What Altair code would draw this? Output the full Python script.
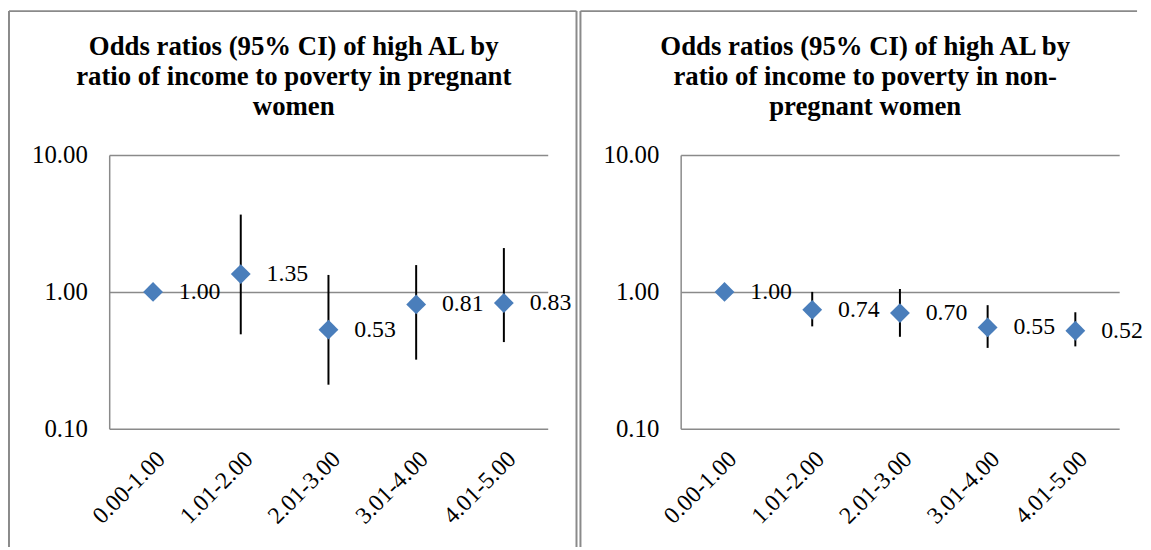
import altair as alt
import pandas as pd

categories = ["0.00-1.00", "1.01-2.00", "2.01-3.00", "3.01-4.00", "4.01-5.00"]

preg_or = [1.00, 1.35, 0.53, 0.81, 0.83]
preg_lo = [None, 0.49, 0.21, 0.32, 0.43]
preg_hi = [None, 3.67, 1.33, 1.57, 2.09]

non_or = [1.00, 0.74, 0.70, 0.55, 0.52]
non_lo = [None, 0.56, 0.47, 0.39, 0.40]
non_hi = [None, 1.00, 1.05, 0.80, 0.71]

y_ticks = [0.1, 1, 10]

title_preg = ["Odds ratios (95% CI) of high AL by",
              "ratio of income to poverty in pregnant",
              "women"]
title_non = ["Odds ratios (95% CI) of high AL by",
             "ratio of income to poverty in non-",
             "pregnant women"]

FONT = "Liberation Serif"
GRAY = "#8a8a8a"
W, H = 442, 276


def panel(or_, lo, hi, title_lines, right_border):
    df = pd.DataFrame({
        "cat": categories,
        "or": or_,
        "lo": lo,
        "hi": hi,
        "lab": [f"{v:.2f}" for v in or_],
    })
    yscale = alt.Scale(type="log", domain=[0.1, 10])
    x = alt.X("cat:N", sort=categories, title=None,
              axis=alt.Axis(labelAngle=-45, domain=False, ticks=False, grid=False,
                            labelFont=FONT, labelFontSize=24, labelColor="black",
                            labelPadding=18))
    y = alt.Y("or:Q", scale=yscale, title=None,
              axis=alt.Axis(values=y_ticks, format=".2f", grid=True, gridColor=GRAY,
                            gridWidth=1.5, domainColor=GRAY, domainWidth=1.5,
                            ticks=False, labelPadding=22, labelFont=FONT,
                            labelFontSize=25, labelColor="black"))
    base = alt.Chart(df)
    rules = base.mark_rule(color="black", strokeWidth=2).encode(
        x=x, y=alt.Y("lo:Q", scale=yscale, title=None), y2="hi:Q")
    points = base.mark_point(shape="diamond", filled=True, size=400,
                             color="#4A7EBB", opacity=1).encode(x=x, y=y)
    labels = base.mark_text(align="left", baseline="middle", dx=26, font=FONT,
                            fontSize=24, color="black").encode(x=x, y=y, text="lab:N")

    bdf = alt.Chart(pd.DataFrame({"k": [0]}))
    title = bdf.mark_text(align="center", baseline="middle", font=FONT, fontSize=27,
                          fontWeight="bold", color="black", lineHeight=30.5).encode(
        x=alt.value(W / 2 - 35), y=alt.value(-109), text=alt.value(title_lines))
    right_x = 471 if right_border else 460
    borders = [
        bdf.mark_rule(color=GRAY, strokeWidth=2).encode(
            x=alt.value(-101), x2=alt.value(right_x), y=alt.value(-145)),
        bdf.mark_rule(color=GRAY, strokeWidth=2).encode(
            x=alt.value(-101), y=alt.value(-145), y2=alt.value(395)),
    ]
    if right_border:
        borders.append(bdf.mark_rule(color=GRAY, strokeWidth=2).encode(
            x=alt.value(471), y=alt.value(-145), y2=alt.value(395)))

    return alt.layer(rules, points, labels, title, *borders).properties(
        width=W, height=H,
    )


left = panel(preg_or, preg_lo, preg_hi, title_preg, True)
right = panel(non_or, non_lo, non_hi, title_non, False)

chart = alt.hconcat(left, right, spacing=134, bounds="flush").properties(
    padding={"left": 0, "top": 0, "right": 0, "bottom": 0}
).configure_view(strokeOpacity=0).resolve_scale(y="independent", x="independent")

chart.save("out.html", embed_options={"renderer": "svg", "actions": False})
